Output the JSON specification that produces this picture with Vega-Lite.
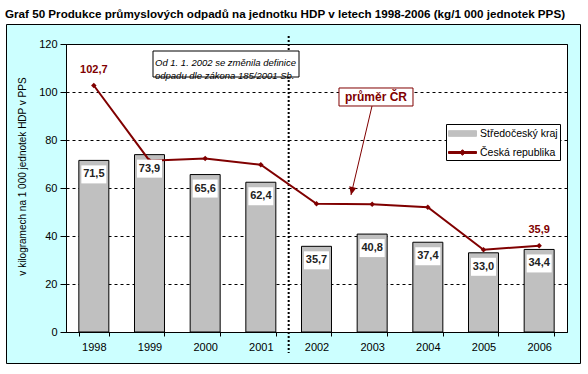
{
  "$schema": "https://vega.github.io/schema/vega-lite/v6.json",
  "width": 501,
  "height": 288,
  "autosize": {"type": "none"},
  "padding": {"left": 66, "top": 44, "right": 21, "bottom": 42},
  "background": "#CCFFFF",
  "title": {
    "text": "Graf 50 Produkce průmyslových odpadů na jednotku HDP v letech 1998-2006 (kg/1 000 jednotek PPS)",
    "anchor": "start",
    "frame": "group",
    "font": "Liberation Sans",
    "fontSize": 11.65,
    "fontWeight": "bold",
    "color": "black",
    "baseline": "alphabetic",
    "offset": 0,
    "dx": -61,
    "dy": 54
  },
  "config": {
    "locale": {"number": {"decimal": ",", "thousands": " ", "grouping": [3], "currency": ["", " Kč"]}},
    "view": {"fill": "white", "stroke": "black", "strokeWidth": 1},
    "axis": {
      "labelFont": "Liberation Sans",
      "labelFontSize": 11,
      "labelColor": "black",
      "domainColor": "black",
      "tickColor": "black",
      "titleFont": "Liberation Sans",
      "titleColor": "black"
    }
  },
  "datasets": {
    "kraj": [
      {"year": "1998", "series": "Středočeský kraj", "value": 71.5},
      {"year": "1999", "series": "Středočeský kraj", "value": 73.9},
      {"year": "2000", "series": "Středočeský kraj", "value": 65.6},
      {"year": "2001", "series": "Středočeský kraj", "value": 62.4},
      {"year": "2002", "series": "Středočeský kraj", "value": 35.7},
      {"year": "2003", "series": "Středočeský kraj", "value": 40.8},
      {"year": "2004", "series": "Středočeský kraj", "value": 37.4},
      {"year": "2005", "series": "Středočeský kraj", "value": 33.0},
      {"year": "2006", "series": "Středočeský kraj", "value": 34.4}
    ],
    "cr": [
      {"year": "1998", "series": "Česká republika", "value": 102.7},
      {"year": "1999", "series": "Česká republika", "value": 71.4},
      {"year": "2000", "series": "Česká republika", "value": 72.3},
      {"year": "2001", "series": "Česká republika", "value": 69.7},
      {"year": "2002", "series": "Česká republika", "value": 53.4},
      {"year": "2003", "series": "Česká republika", "value": 53.2},
      {"year": "2004", "series": "Česká republika", "value": 52.0},
      {"year": "2005", "series": "Česká republika", "value": 34.3},
      {"year": "2006", "series": "Česká republika", "value": 35.9}
    ],
    "one": [{}]
  },
  "layer": [
    {
      "data": {"name": "kraj"},
      "mark": {"type": "bar", "stroke": "black", "strokeWidth": 1, "opacity": 1},
      "encoding": {
        "x": {
          "field": "year", "type": "ordinal",
          "scale": {"domain": ["1998","1999","2000","2001","2002","2003","2004","2005","2006"], "paddingInner": 0.4611, "paddingOuter": 0.23055},
          "axis": {"title": null, "labelAngle": 0, "tickBand": "extent", "tickSize": 4, "labelPadding": 5, "grid": false}
        },
        "y": {
          "field": "value", "type": "quantitative",
          "scale": {"domain": [0, 120], "nice": false, "zero": false},
          "axis": {
            "values": [0, 20, 40, 60, 80, 100, 120],
            "grid": true, "gridColor": "black", "gridDash": [3, 3], "gridOpacity": 1, "gridWidth": 1,
            "tickSize": 6, "labelPadding": 3,
            "title": "v kilogramech na 1 000 jednotek HDP v PPS",
            "titleFontSize": 10, "titleFontWeight": "normal",
            "titleX": -44, "titleY": 132, "titleBaseline": "middle", "titleAngle": 270, "titleAlign": "center"
          }
        },
        "color": {
          "field": "series", "type": "nominal",
          "scale": {"domain": ["Středočeský kraj", "Česká republika"], "range": ["#C0C0C0", "#800000"]},
          "legend": {
            "title": null,
            "orient": "none",
            "legendX": 380,
            "legendY": 80,
            "fillColor": "white",
            "strokeColor": "black",
            "padding": 2,
            "symbolSize": 196,
            "symbolOffset": 7,
            "labelOffset": 10,
            "rowPadding": 6,
            "labelFont": "Liberation Sans",
            "labelFontSize": 10.5,
            "labelColor": "black",
            "symbolStrokeWidth": 1,
            "symbolOpacity": 1,
            "symbolType": {"expr": "datum.value === 'Česká republika' ? 'M-2,-0.14H2V0.14H-2Z M0,-0.4L0.4,0L0,0.4L-0.4,0Z' : 'M-2,-0.4H2V0.4H-2Z'"},
            "symbolStrokeColor": {"expr": "datum.value === 'Česká republika' ? '#800000' : 'black'"},
            "symbolFillColor": {"expr": "datum.value === 'Česká republika' ? '#800000' : '#C0C0C0'"}
          }
        }
      }
    },
    {
      "data": {"name": "one"},
      "mark": {"type": "rule", "color": "black", "strokeWidth": 2, "strokeDash": [2, 2]},
      "encoding": {
        "x": {"datum": "2002", "type": "ordinal", "bandPosition": -0.4277},
        "y": {"datum": 123.3, "type": "quantitative"},
        "y2": {"datum": -8.75}
      }
    },
    {
      "data": {"name": "cr"},
      "mark": {"type": "line", "strokeWidth": 2, "point": {"filled": true, "shape": "diamond", "size": 30, "opacity": 1}},
      "encoding": {
        "x": {"field": "year", "type": "ordinal"},
        "y": {"field": "value", "type": "quantitative"},
        "color": {"field": "series", "type": "nominal"}
      }
    },
    {
      "data": {"name": "kraj"},
      "mark": {"type": "point", "shape": "M-1,-0.72H1V0.72H-1Z", "size": 625, "filled": true, "color": "white", "opacity": 1, "strokeWidth": 0, "yOffset": 14},
      "encoding": {
        "x": {"field": "year", "type": "ordinal"},
        "y": {"field": "value", "type": "quantitative"}
      }
    },
    {
      "data": {"name": "kraj"},
      "mark": {"type": "text", "font": "Liberation Sans", "fontSize": 11, "fontWeight": "bold", "color": "#222222", "baseline": "middle", "align": "center", "yOffset": 14},
      "encoding": {
        "x": {"field": "year", "type": "ordinal"},
        "y": {"field": "value", "type": "quantitative"},
        "text": {"field": "value", "type": "quantitative", "format": ".1f"}
      }
    },
    {
      "data": {"name": "cr"},
      "transform": [{"filter": {"field": "year", "oneOf": ["1998", "2006"]}}],
      "mark": {"type": "text", "font": "Liberation Sans", "fontSize": 11, "fontWeight": "bold", "color": "#800000", "baseline": "middle", "align": "center", "dy": -16},
      "encoding": {
        "x": {"field": "year", "type": "ordinal"},
        "y": {"field": "value", "type": "quantitative"},
        "text": {"field": "value", "type": "quantitative", "format": ".1f"}
      }
    },
    {
      "data": {"name": "one"},
      "mark": {"type": "rect", "fill": "white", "stroke": "black", "strokeWidth": 1},
      "encoding": {
        "x": {"datum": "1999", "type": "ordinal", "bandPosition": 0.617},
        "x2": {"datum": "2002", "bandPosition": -0.083},
        "y": {"datum": 117.08, "type": "quantitative"},
        "y2": {"datum": 106.25}
      }
    },
    {
      "data": {"name": "one"},
      "mark": {"type": "text", "text": ["Od 1. 1. 2002 se změnila definice", "odpadu dle zákona 185/2001 Sb."], "font": "Liberation Sans", "fontSize": 9.5, "fontStyle": "italic", "align": "left", "baseline": "middle", "lineHeight": 13.3, "color": "black"},
      "encoding": {
        "x": {"datum": "1999", "type": "ordinal", "bandPosition": 0.683},
        "y": {"datum": 112.2, "type": "quantitative"}
      }
    },
    {
      "data": {"name": "one"},
      "mark": {"type": "rule", "color": "#800000", "strokeWidth": 1},
      "encoding": {
        "x": {"datum": "2003", "type": "ordinal", "bandPosition": 0.495},
        "x2": {"datum": "2002", "bandPosition": 1.65},
        "y": {"datum": 94.17, "type": "quantitative"},
        "y2": {"datum": 57.1}
      }
    },
    {
      "data": {"name": "one"},
      "mark": {"type": "point", "shape": "M0,0L-0.5,-1.1L0.5,-1.1Z", "size": 212, "angle": 13, "filled": true, "color": "#800000", "opacity": 1},
      "encoding": {
        "x": {"datum": "2002", "type": "ordinal", "bandPosition": 1.65},
        "y": {"datum": 57.1, "type": "quantitative"}
      }
    },
    {
      "data": {"name": "one"},
      "mark": {"type": "rect", "fill": "white", "stroke": "#800000", "strokeWidth": 1},
      "encoding": {
        "x": {"datum": "2002", "type": "ordinal", "bandPosition": 1.25},
        "x2": {"datum": "2003", "bandPosition": 1.861},
        "y": {"datum": 101.67, "type": "quantitative"},
        "y2": {"datum": 94.17}
      }
    },
    {
      "data": {"name": "one"},
      "mark": {"type": "text", "text": "průměr ČR", "font": "Liberation Sans", "fontSize": 12, "fontWeight": "bold", "color": "#800000", "align": "center", "baseline": "middle"},
      "encoding": {
        "x": {"datum": "2003", "type": "ordinal", "bandPosition": 0.628},
        "y": {"datum": 97.92, "type": "quantitative"}
      }
    },
    {
      "data": {"name": "one"},
      "mark": {"type": "rect", "fill": "white", "fillOpacity": 0, "stroke": "white", "strokeWidth": 48},
      "encoding": {
        "x": {"datum": "1998", "type": "ordinal", "bandPosition": -3.228},
        "x2": {"datum": "2006", "bandPosition": 2.694},
        "y": {"datum": 138.33, "type": "quantitative"},
        "y2": {"datum": -23.33}
      }
    },
    {
      "data": {"name": "one"},
      "mark": {"type": "rect", "fill": "white", "fillOpacity": 0, "stroke": "black", "strokeWidth": 1},
      "encoding": {
        "x": {"datum": "1998", "type": "ordinal", "bandPosition": -2.411},
        "x2": {"datum": "2006", "bandPosition": 1.878},
        "y": {"datum": 128.125, "type": "quantitative"},
        "y2": {"datum": -13.125}
      }
    }
  ]
}
